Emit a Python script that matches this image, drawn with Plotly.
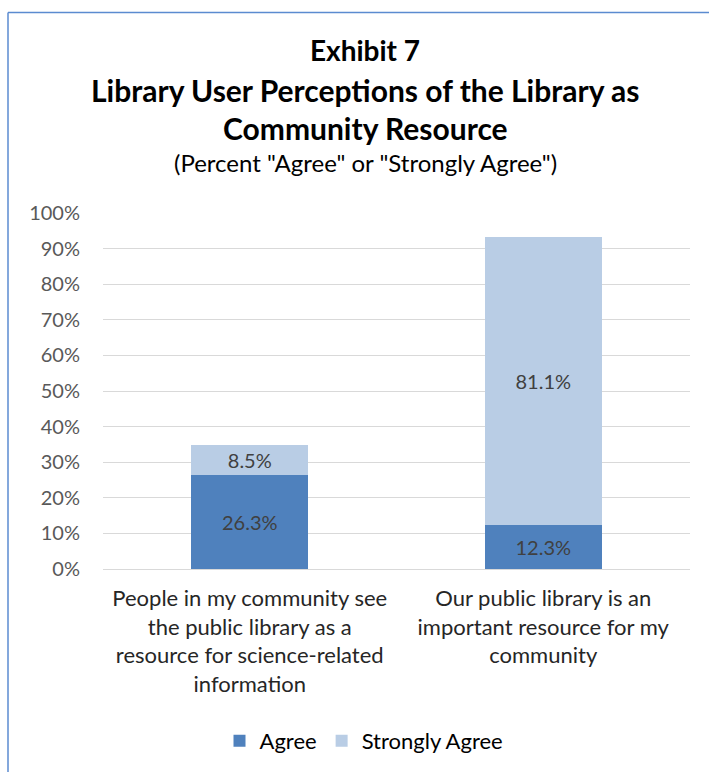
import plotly.graph_objects as go

# Survey statements (x-axis categories)
categories = [
    "People in my community see<br>the public library as a<br>resource for science-related<br>information",
    "Our public library is an<br>important resource for my<br>community",
]
agree = [26.3, 12.3]
strongly_agree = [8.5, 81.1]
y_ticks = [0, 10, 20, 30, 40, 50, 60, 70, 80, 90, 100]
y_tick_labels = [f"{v}%" for v in y_ticks]

FONT = "Lato, 'Open Sans', sans-serif"
W, H = 709, 772
L, R, T, B = 103, 19, 213, 202
PW, PH = W - L - R, H - T - B


def px_x(px):
    return (px - L) / PW


def px_y(py):
    return (H - B - py) / PH


fig = go.Figure()
fig.add_trace(go.Bar(
    name="Agree", x=categories, y=agree,
    marker=dict(color="#4f81bd", line=dict(width=0)),
    text=[f"{v:.1f}%" for v in agree], textposition="inside",
    insidetextanchor="middle",
    textfont=dict(family=FONT, size=20, color="#404040"),
))
fig.add_trace(go.Bar(
    name="Strongly Agree", x=categories, y=strongly_agree,
    marker=dict(color="#b9cde5", line=dict(width=0)),
    text=[f"{v:.1f}%" for v in strongly_agree], textposition="inside",
    insidetextanchor="middle",
    textfont=dict(family=FONT, size=20, color="#404040"),
))

title_lines = [
    ("<b>Exhibit 7</b>", 50, 28),
    ("<b>Library User Perceptions of the Library as</b>", 90, 30),
    ("<b>Community Resource</b>", 128, 30),
    ('(Percent "Agree" or "Strongly Agree")', 162, 24),
]
annotations = [
    dict(text=t, x=px_x(365), y=px_y(py), xref="paper", yref="paper",
         xanchor="center", yanchor="middle", showarrow=False,
         font=dict(family=FONT, size=s, color="#000000"))
    for t, py, s in title_lines
]

# Chart frame: top and left edges
shapes = [
    dict(type="line", xref="paper", yref="paper",
         x0=px_x(8), x1=px_x(715), y0=px_y(12), y1=px_y(12),
         line=dict(color="#5b8bd0", width=1.5)),
    dict(type="line", xref="paper", yref="paper",
         x0=px_x(8), x1=px_x(8), y0=px_y(12), y1=px_y(780),
         line=dict(color="#5b8bd0", width=1.5)),
]

fig.update_layout(
    width=W, height=H,
    margin=dict(l=L, r=R, t=T, b=B),
    paper_bgcolor="white", plot_bgcolor="white",
    barmode="stack", bargap=0.6,
    font=dict(family=FONT, color="#000000"),
    showlegend=True,
    legend=dict(orientation="h", x=px_x(364), y=px_y(741),
                xanchor="center", yanchor="middle",
                font=dict(family=FONT, size=22, color="#000000"),
                traceorder="normal", itemwidth=30),
    annotations=annotations,
    shapes=shapes,
    uniformtext=dict(mode="show", minsize=10),
)
fig.update_yaxes(
    range=[0, 100], tickvals=y_ticks, ticktext=y_tick_labels,
    showgrid=True, gridcolor="#d9d9d9", gridwidth=1,
    zeroline=True, zerolinecolor="#d9d9d9", zerolinewidth=1,
    showline=False, ticks="", ticklabelstandoff=22,
    tickfont=dict(family=FONT, size=20, color="#595959"),
)
fig.update_xaxes(
    showline=False, ticks="", showgrid=False, ticklabelstandoff=14,
    tickfont=dict(family=FONT, size=22, color="#262626"),
)

fig.write_html("out.html")
